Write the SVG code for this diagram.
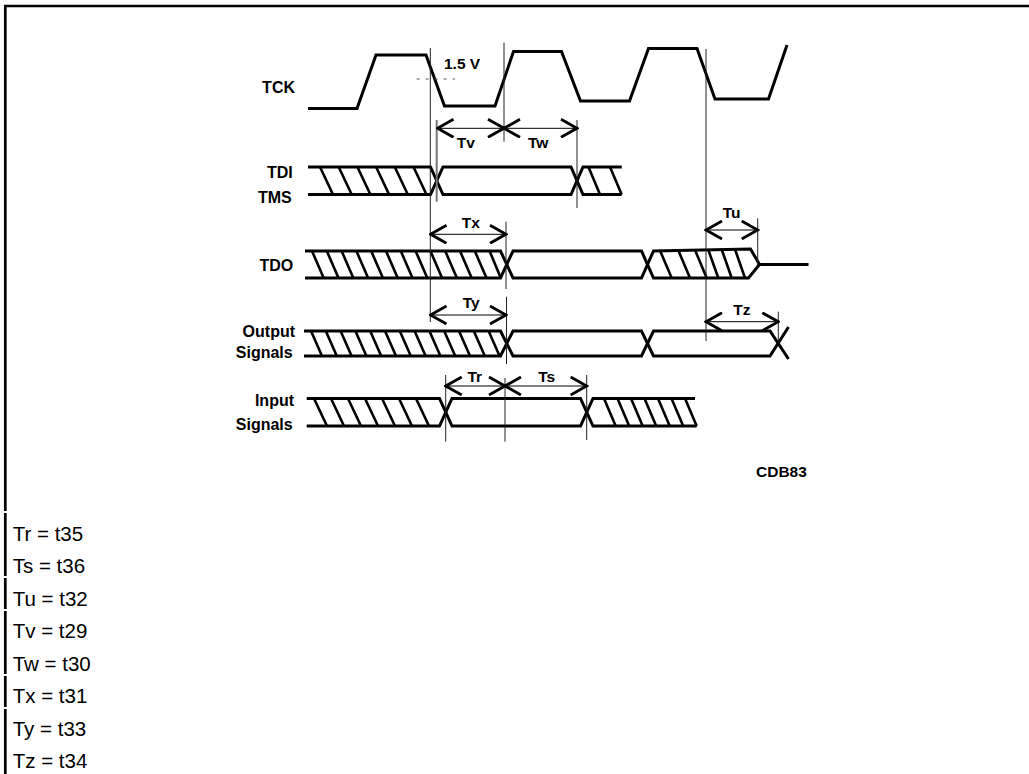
<svg xmlns="http://www.w3.org/2000/svg" width="1029" height="774" viewBox="0 0 1029 774">
<style>
.w{fill:none;stroke:#000;stroke-width:3;stroke-linejoin:miter;stroke-linecap:butt}
.h{fill:none;stroke:#000;stroke-width:2.6}
.v{fill:none;stroke:#222;stroke-width:1}
.a{fill:none;stroke:#000;stroke-width:1}
.lb{font-family:"Liberation Sans",Arial,sans-serif;font-weight:bold;font-size:16px;fill:#000}
.tl{font-family:"Liberation Sans",Arial,sans-serif;font-weight:bold;font-size:15.5px;fill:#000}
.tb{font-family:"Liberation Sans",Arial,sans-serif;font-size:20.5px;fill:#000}
.bd{fill:none;stroke:#000;stroke-width:2.7}
</style>
<defs>
<marker id="ah" viewBox="-18 -10 20 20" refX="0" refY="0" markerWidth="20" markerHeight="20" markerUnits="userSpaceOnUse" orient="auto-start-reverse">
<path d="M-16,-9 L0,0 L-16,9" fill="none" stroke="#000" stroke-width="2.8"/>
</marker>
</defs>
<rect width="1029" height="774" fill="#fff"/>
<g id="border">
<path class="bd" d="M4,6 H1029"/>
<path class="bd" d="M5.3,5 V511 M5.3,513 V576 M5.3,578 V609 M5.3,611 V674 M5.3,676 V707 M5.3,709 V774"/>
</g>
<g id="tck">
<text class="lb" x="295" y="93.3" text-anchor="end">TCK</text>
<path class="w" d="M308,108.5 L357,108.5 L376,55 L426,55 L444.5,106 L495,106 L513.5,51.5 L561.5,51.5 L580.5,101 L629.5,101 L648.5,48.5 L697,48.5 L715,99 L768.5,99 L787,45"/>
<path d="M416.7,79 H455" fill="none" stroke="#555" stroke-width="1" stroke-dasharray="3 6"/>
<text class="tl" x="444" y="69.3" font-size="14.5">1.5 V</text>
</g>
<g id="tdi">
<text class="lb" x="292.7" y="178.3" text-anchor="end">TDI</text>
<text class="lb" x="291.7" y="202.7" text-anchor="end">TMS</text>
<path class="w" d="M308,167 H430.5 L443,194.5 H571 L583,167 H621.7"/>
<path class="w" d="M308,194.5 H430.5 L443,167 H571 L583,194.5 H621.7"/>
<path class="h" d="M320,167 l13,27.5 M338.7,167 l13,27.5 M357.4,167 l13,27.5 M376.1,167 l13,27.5 M394.8,167 l13,27.5 M413.5,167 l13,27.5 M588.5,167 l11.5,27.5 M610,167 l11.7,27.5"/>
</g>
<g id="tdo">
<text class="lb" x="293.3" y="270.7" text-anchor="end">TDO</text>
<path class="w" d="M305,251 H500.5 L513,278 H641.5 L653.5,251 L750.5,249 L759.5,264.5 H808.5"/>
<path class="w" d="M305,278 H500.5 L513,251 H641.5 L653.5,278 H748.5 L759.5,264.5"/>
<path class="h" d="M312,251 l11.7,27 M326.8,251 l11.7,27 M341.6,251 l11.7,27 M356.4,251 l11.7,27 M371.2,251 l11.7,27 M386,251 l11.7,27 M400.8,251 l11.7,27 M415.6,251 l11.7,27 M430.4,251 l11.7,27 M445.2,251 l11.7,27 M460,251 l11.7,27 M474.8,251 l11.7,27 M489.6,251 l11.2,27 M660,250.5 l11.7,27.5 M678.3,250.3 l11.7,27.7 M695,250 l11.7,28 M708.3,249.8 l10,28.2 M721.7,249.5 l10,28.5 M735,249.3 l10,28.7"/>
</g>
<g id="output">
<text class="lb" x="295" y="337" text-anchor="end">Output</text>
<text class="lb" x="292.7" y="357.5" text-anchor="end">Signals</text>
<path class="w" d="M304,331 H500.5 L513,356 H641.5 L653.5,331 H770 L788.5,359"/>
<path class="w" d="M304,356 H500.5 L513,331 H641.5 L653.5,356 H770 L788.5,327"/>
<path class="h" d="M311,331 l11,25 M325.8,331 l11,25 M340.6,331 l11,25 M355.4,331 l11,25 M370.2,331 l11,25 M385,331 l11,25 M399.8,331 l11,25 M414.6,331 l11,25 M429.4,331 l11,25 M444.2,331 l11,25 M459,331 l11,25 M473.8,331 l11,25 M488.6,331 l11,25"/>
</g>
<g id="input">
<text class="lb" x="294" y="406" text-anchor="end">Input</text>
<text class="lb" x="292.7" y="429.5" text-anchor="end">Signals</text>
<path class="w" d="M306.7,398.5 H439.5 L452,426 H580.5 L593,398.5 H695"/>
<path class="w" d="M306.7,426 H439.5 L452,398.5 H580.5 L593,426 H696.7"/>
<path class="h" d="M314,398.5 l13,27.5 M331,398.5 l13,27.5 M348,398.5 l13,27.5 M365,398.5 l13,27.5 M382,398.5 l13,27.5 M399,398.5 l13,27.5 M416,398.5 l13,27.5 M604,398.5 l11.7,27.5 M617.5,398.5 l11.7,27.5 M631,398.5 l11.7,27.5 M644.5,398.5 l11.7,27.5 M658,398.5 l11.7,27.5 M671.5,398.5 l11.7,27.5 M685,398.5 l11.7,27.5"/>
</g>
<g id="connectors">
<path class="v" d="M430.3,48 V322 M504,42.7 V141.7 M706,49 V341 M577,120 V208 M506,221.7 V289 M506.5,296.7 V364 M757.7,218.3 V265 M778.3,311.7 V343 M445.7,375 V441.7 M505,378 V441.7 M586.7,375 V440"/>
<path d="M436.7,120 V201.7" fill="none" stroke="#777" stroke-width="2"/>
<path class="a" marker-start="url(#ah)" marker-end="url(#ah)" d="M437.5,128.3 H504"/>
<path class="a" marker-start="url(#ah)" marker-end="url(#ah)" d="M504,128.3 H577"/>
<path class="a" marker-start="url(#ah)" marker-end="url(#ah)" d="M430.5,234.3 H506"/>
<path class="a" marker-start="url(#ah)" marker-end="url(#ah)" d="M430.5,315 H506"/>
<path class="a" marker-start="url(#ah)" marker-end="url(#ah)" d="M706,230 H757.7"/>
<path class="a" marker-start="url(#ah)" marker-end="url(#ah)" d="M706,321.7 H778.3"/>
<path class="a" marker-start="url(#ah)" marker-end="url(#ah)" d="M445.7,386 H505"/>
<path class="a" marker-start="url(#ah)" marker-end="url(#ah)" d="M505,386 H586.7"/>
</g>
<g id="labels">
<text class="tl" x="456.7" y="148.3">Tv</text>
<text class="tl" x="528" y="148.3">Tw</text>
<text class="tl" x="461.7" y="228.3">Tx</text>
<text class="tl" x="462.7" y="308.3">Ty</text>
<text class="tl" x="722.7" y="218.3">Tu</text>
<text class="tl" x="733.3" y="315">Tz</text>
<text class="tl" x="467.5" y="381.7">Tr</text>
<text class="tl" x="538.3" y="382">Ts</text>
<text class="tl" x="756" y="477.3" font-size="12.5">CDB83</text>
</g>
<g id="legend">
<text class="tb" x="12.7" y="541">Tr = t35</text>
<text class="tb" x="12.7" y="573.3">Ts = t36</text>
<text class="tb" x="12.7" y="606">Tu = t32</text>
<text class="tb" x="12.7" y="638.3">Tv = t29</text>
<text class="tb" x="12.7" y="670.7">Tw = t30</text>
<text class="tb" x="12.7" y="703.3">Tx = t31</text>
<text class="tb" x="12.7" y="735.7">Ty = t33</text>
<text class="tb" x="12.7" y="767.7">Tz = t34</text>
</g>
</svg>
